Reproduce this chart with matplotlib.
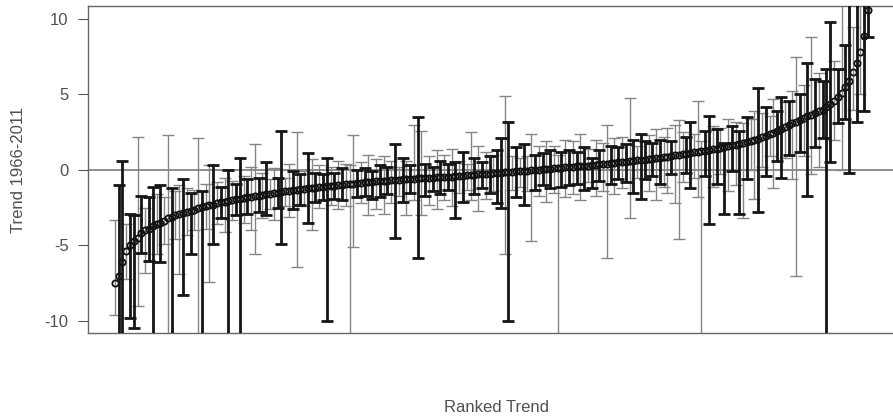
import numpy as np
import matplotlib as mpl
mpl.use('Agg')
import matplotlib.pyplot as plt

plt.rcParams['font.family'] = ['Liberation Sans', 'DejaVu Sans']
plt.rcParams['axes.unicode_minus'] = False

# ranked trend estimates (1966-2011) with lower / upper interval, 1 = black (bold) bar, 0 = grey bar
trend = [-7.5, -7.0, -6.1, -5.4, -5.0, -4.7, -4.5, -4.2, -4.0, -3.9,
         -3.7, -3.6, -3.5, -3.35, -3.2, -3.1, -3.0, -2.9, -2.85, -2.8,
         -2.7, -2.65, -2.55, -2.45, -2.4, -2.35, -2.3, -2.2, -2.15, -2.1,
         -2.05, -2.0, -1.95, -1.9, -1.85, -1.8, -1.78, -1.75, -1.7, -1.66,
         -1.62, -1.58, -1.55, -1.5, -1.46, -1.42, -1.38, -1.35, -1.32, -1.28,
         -1.25, -1.22, -1.2, -1.17, -1.14, -1.11, -1.08, -1.05, -1.03, -1.0,
         -0.98, -0.95, -0.93, -0.9, -0.88, -0.85, -0.83, -0.8, -0.78, -0.76,
         -0.74, -0.72, -0.7, -0.68, -0.66, -0.64, -0.62, -0.6, -0.59, -0.57,
         -0.55, -0.54, -0.52, -0.51, -0.5, -0.48, -0.47, -0.46, -0.45, -0.44,
         -0.42, -0.4, -0.38, -0.36, -0.34, -0.32, -0.3, -0.28, -0.26, -0.24,
         -0.22, -0.2, -0.18, -0.16, -0.14, -0.12, -0.1, -0.08, -0.06, -0.04,
         -0.02, 0.0, 0.02, 0.04, 0.06, 0.08, 0.1, 0.12, 0.15, 0.17,
         0.19, 0.21, 0.23, 0.25, 0.27, 0.29, 0.31, 0.34, 0.37, 0.4,
         0.42, 0.45, 0.47, 0.5, 0.52, 0.55, 0.57, 0.6, 0.63, 0.66,
         0.69, 0.72, 0.75, 0.78, 0.81, 0.84, 0.88, 0.92, 0.96, 1.0,
         1.04, 1.08, 1.12, 1.16, 1.2, 1.24, 1.28, 1.32, 1.36, 1.4,
         1.45, 1.5, 1.56, 1.62, 1.68, 1.74, 1.8, 1.86, 1.93, 2.0,
         2.08, 2.16, 2.25, 2.35, 2.45, 2.55, 2.7, 2.82, 2.95, 3.08,
         3.2, 3.3, 3.42, 3.55, 3.65, 3.78, 3.9, 4.0, 4.2, 4.4,
         4.6, 4.85, 5.1, 5.5, 5.9, 6.5, 7.1, 7.8, 8.9, 10.6]

lower = [-9.6, -11, -11, -7.2, -9.8, -10.5, -9.0, -5.5, -6.8, -6.0,
         -11, -5.6, -6.1, -4.9, -11, -11, -4.6, -6.9, -8.3, -4.3,
         -5.6, -4.0, -11, -11, -3.9, -7.4, -4.9, -3.6, -3.2, -4.1,
         -11, -3.3, -3.0, -11, -3.5, -2.9, -4.0, -5.6, -2.8, -3.2,
         -3.0, -2.6, -3.3, -2.5, -4.9, -2.4, -3.1, -2.6, -6.4, -2.3,
         -2.4, -3.5, -4.0, -2.1, -2.5, -2.0, -10.0, -2.3, -1.9, -2.6,
         -2.0, -2.4, -11, -5.1, -1.8, -2.2, -1.7, -3.0, -1.9, -2.6,
         -1.8, -2.9, -1.6, -2.2, -4.5, -1.7, -2.1, -3.0, -1.5, -2.0,
         -5.8, -3.0, -1.7, -2.3, -1.4, -2.6, -1.6, -2.0, -1.3, -2.4,
         -3.2, -1.5, -2.1, -1.3, -2.0, -1.6, -2.7, -1.2, -1.9, -1.5,
         -1.4, -2.2, -2.5, -5.6, -10.0, -1.3, -1.8, -1.1, -2.3, -1.4,
         -4.7, -1.3, -1.7, -1.0, -2.1, -1.2, -1.5, -11, -1.1, -1.8,
         -1.0, -1.6, -0.9, -2.0, -1.3, -0.8, -1.2, -1.7, -0.7, -1.4,
         -5.8, -0.9, -1.6, -0.6, -1.2, -0.8, -3.2, -1.5, -0.5, -1.9,
         -0.6, -1.4, -0.4, -2.0, -0.9, -1.1, -1.5, -0.3, -2.2, -4.6,
         -0.8, -0.2, -1.2, -0.5, -1.8, -11, -0.4, -3.6, -1.1, -0.9,
         -0.3, -2.9, -1.4, -0.1, -1.0, -2.9, -3.2, -0.6, 0.0, -1.9,
         -2.8, 0.2, -0.4, 0.9, -1.2, 0.6, -0.5, 0.8, 1.0, -0.6,
         -7.0, 1.2, 0.9, -1.7, -0.3, 1.5, 0.2, 2.1, -11, 0.5,
         2.0, 3.1, 0.0, 3.4, -0.2, 4.0, 3.2, 5.0, 3.9, 8.8]

upper = [-3.3, -1.0, 0.6, -3.6, -2.9, -3.0, 2.2, -1.7, -2.5, -1.8,
         -1.1, -1.6, -1.0, -1.8, 2.3, -1.2, -1.4, -1.0, -0.6, -1.2,
         -1.5, -1.3, 2.1, -1.4, -0.9, 0.3, 0.3, -0.8, -1.1, -0.5,
         0.0, -0.7, -0.9, 0.8, -0.4, -0.6, 0.2, 1.7, -0.5, -0.2,
         0.5, -0.6, 0.1, -0.5, 2.6, -0.5, 0.4, -0.1, 2.5, -0.3,
         -0.1, 1.1, 0.7, -0.2, 0.3, -0.3, 0.8, 0.2, -0.2, 0.6,
         0.1, 0.4, 0.3, 2.3, 0.0, 0.5, 0.1, 1.0, -0.1, 0.7,
         0.3, 0.9, 0.2, 0.6, 1.7, 0.2, 0.8, 0.6, 0.3, 3.0,
         3.5, 2.6, 0.4, 0.9, 0.2, 1.3, 0.6, 1.0, 0.4, 1.4,
         0.5, 0.6, 1.2, 0.4, 2.5, 0.8, 1.6, 0.5, 1.2, 0.9,
         1.0, 1.3, 2.1, 4.9, 3.2, 0.9, 1.5, 0.8, 1.7, 0.9,
         2.4, 1.0, 1.6, 1.1, 1.9, 1.3, 1.6, 1.0, 1.2, 2.0,
         1.3, 1.9, 1.2, 2.4, 1.5, 1.4, 0.8, 2.0, 1.3, 1.8,
         3.0, 1.6, 2.1, 1.5, 2.2, 1.7, 4.75, 2.0, 1.6, 2.4,
         1.9, 2.3, 1.8, 2.7, 2.0, 2.2, 2.8, 1.9, 3.0, 3.3,
         2.5, 2.2, 3.2, 2.4, 4.6, 1.9, 2.6, 3.6, 2.9, 2.7,
         2.8, 1.8, 3.4, 2.9, 3.2, 2.6, 3.1, 3.5, 3.4, 3.9,
         5.4, 3.8, 4.2, 3.6, 4.7, 3.9, 4.8, 4.5, 4.6, 5.2,
         7.5, 5.0, 5.6, 7.1, 8.8, 6.0, 6.4, 5.9, 6.7, 9.8,
         7.2, 6.7, 11.5, 8.3, 11.5, 9.5, 11.5, 11.5, 11.5, 12.5]

bold = [0, 1, 1, 0, 1, 1, 0, 1, 0, 1,
        1, 0, 1, 0, 0, 1, 0, 0, 1, 0,
        1, 0, 0, 1, 0, 0, 1, 0, 1, 0,
        1, 0, 1, 1, 0, 1, 0, 0, 1, 0,
        1, 0, 0, 1, 1, 0, 0, 1, 0, 1,
        0, 1, 0, 1, 0, 1, 1, 0, 1, 0,
        1, 0, 0, 0, 1, 0, 1, 0, 1, 0,
        1, 0, 1, 0, 1, 0, 1, 0, 1, 0,
        1, 0, 1, 0, 1, 0, 1, 0, 1, 0,
        1, 0, 1, 0, 0, 1, 0, 1, 0, 1,
        0, 1, 1, 0, 1, 0, 1, 0, 1, 0,
        0, 1, 0, 1, 0, 1, 0, 0, 1, 0,
        1, 0, 1, 0, 1, 0, 1, 0, 1, 0,
        0, 1, 0, 1, 0, 1, 0, 1, 0, 1,
        1, 0, 1, 0, 1, 0, 0, 1, 0, 0,
        0, 1, 1, 0, 0, 0, 1, 1, 0, 1,
        0, 1, 0, 1, 0, 1, 0, 1, 0, 0,
        1, 0, 1, 0, 0, 1, 1, 0, 1, 0,
        0, 1, 0, 1, 0, 1, 0, 1, 1, 1,
        0, 1, 0, 1, 1, 0, 1, 0, 1, 1]

trend = np.array(trend)
lower = np.array(lower)
upper = np.array(upper)
bold = np.array(bold, dtype=bool)
rank = np.arange(1, len(trend) + 1)

fig = plt.figure(figsize=(8.93, 4.17), dpi=100)
ax = fig.add_axes([88 / 893, 1 - 333 / 417, 1 - 88 / 893, (333 - 6) / 417])

ax.axhline(0, color='#7a7a7a', lw=1.2, zorder=1)

g = ~bold
ax.errorbar(rank[g], trend[g], yerr=[trend[g] - lower[g], upper[g] - trend[g]],
            fmt='none', ecolor='#858585', elinewidth=1.0, capsize=4.5, capthick=1.0, zorder=2)
ax.errorbar(rank[bold], trend[bold], yerr=[trend[bold] - lower[bold], upper[bold] - trend[bold]],
            fmt='none', ecolor='#151515', elinewidth=2.0, capsize=4.5, capthick=2.0, zorder=3)
ax.plot(rank, trend, 'o', ms=4.5, mfc='none', mec='#111111', mew=1.3, zorder=4)

ax.set_xlim(-6.1, 206.6)
ax.set_ylim(-10.8, 10.86)
ax.set_yticks([-10, -5, 0, 5, 10])
ax.set_xticks([])
ax.tick_params(axis='y', direction='out', length=7, width=0.8, colors='#555555',
               labelcolor='#505050', labelsize=12, pad=7)

for s in ['left', 'top', 'bottom']:
    ax.spines[s].set_color('#666666')
    ax.spines[s].set_linewidth(1.0)
ax.spines['right'].set_visible(False)

ax.set_ylabel('Trend 1966-2011', fontsize=12, color='#505050')
ax.yaxis.set_label_coords(-62 / 805, 0.5)
ax.set_xlabel('Ranked Trend', fontsize=12, color='#505050')
ax.xaxis.set_label_coords((496 - 88) / 805, -(400 - 333) / 327)

plt.savefig('out.png', dpi=100)
plt.close(fig)
